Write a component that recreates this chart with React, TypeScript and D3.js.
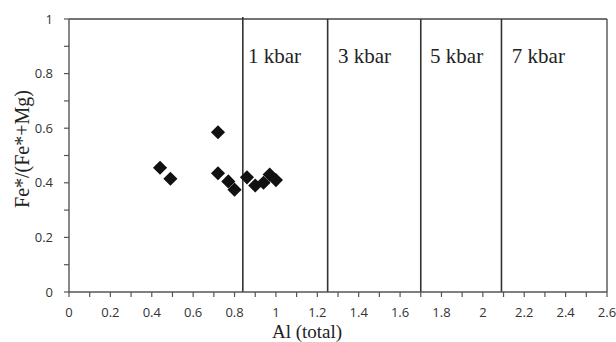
import React from "react";
import * as d3 from "d3";

const alTotal = [0.44, 0.49, 0.72, 0.72, 0.77, 0.8, 0.86, 0.9, 0.94, 0.97, 1.0];
const feRatio = [0.455, 0.415, 0.585, 0.435, 0.405, 0.375, 0.42, 0.39, 0.4, 0.43, 0.41];
const boundaries = [0.84, 1.25, 1.7, 2.09];
const zoneLabels = ["1 kbar", "3 kbar", "5 kbar", "7 kbar"];
const zoneLabelX = [0.865, 1.3, 1.745, 2.14];
const xTickLabels = [0, 0.2, 0.4, 0.6, 0.8, 1, 1.2, 1.4, 1.6, 1.8, 2, 2.2, 2.4, 2.6];
const yTickLabels = [0, 0.2, 0.4, 0.6, 0.8, 1];

const W = 616, H = 342;
const left = 69, right = 607, top = 19, bottom = 292;

export default function App() {
  const x = d3.scaleLinear().domain([0, 2.6]).range([left, right]);
  const y = d3.scaleLinear().domain([0, 1]).range([bottom, top]);
  const minorX = d3.range(0, 2.6001, 0.1);
  const minorY = d3.range(0, 1.0001, 0.1);
  const diamond = d3.symbol().type(d3.symbolSquare).size(100)();
  const axisColor = "#555";
  const tickFont = "'Open Sans', 'Liberation Sans', sans-serif";
  const serif = "'Liberation Serif', 'Times New Roman', serif";
  return (
    <svg width={W} height={H} style={{ position: "absolute", left: 0, top: 0, background: "#fff" }}>
      <rect x={0} y={0} width={W} height={H} fill="#fff" />
      <line x1={left} x2={right} y1={top} y2={top} stroke="#444" strokeWidth={1.3} />
      <line x1={right} x2={right} y1={top} y2={bottom} stroke="#444" strokeWidth={1.3} />
      {boundaries.map((b, i) => (
        <line key={i} x1={x(b)} x2={x(b)} y1={i === 0 ? top - 2 : top} y2={bottom} stroke="#333" strokeWidth={1.6} />
      ))}
      <line x1={left} x2={left} y1={top} y2={bottom} stroke={axisColor} strokeWidth={1.4} />
      <line x1={left} x2={right} y1={bottom} y2={bottom} stroke={axisColor} strokeWidth={1.4} />
      {minorY.map((v, i) => (
        <line key={"yt" + i} x1={left - 5} x2={left} y1={y(v)} y2={y(v)} stroke={axisColor} strokeWidth={1.2} />
      ))}
      {minorX.map((v, i) => (
        <line key={"xt" + i} x1={x(v)} x2={x(v)} y1={bottom} y2={bottom + 5} stroke={axisColor} strokeWidth={1.2} />
      ))}
      {yTickLabels.map((v, i) => (
        <text key={"yl" + i} x={left - 16} y={y(v)} dy="0.35em" textAnchor="end" style={{ fontFamily: tickFont }} fontSize={13} fill="#333">
          {v}
        </text>
      ))}
      {xTickLabels.map((v, i) => (
        <text key={"xl" + i} x={x(v)} y={bottom + 20} dy="0.35em" textAnchor="middle" style={{ fontFamily: tickFont }} fontSize={13} fill="#333">
          {v}
        </text>
      ))}
      {zoneLabels.map((t, i) => (
        <text key={"z" + i} x={x(zoneLabelX[i])} y={63} style={{ fontFamily: serif }} fontSize={21} fill="#222">
          {t}
        </text>
      ))}
      <text x={307} y={338} textAnchor="middle" style={{ fontFamily: serif }} fontSize={19} fill="#222">
        Al (total)
      </text>
      <text transform={`translate(29, 149) rotate(-90)`} textAnchor="middle" style={{ fontFamily: serif }} fontSize={20} fill="#222">
        Fe*/(Fe*+Mg)
      </text>
      {alTotal.map((a, i) => (
        <path key={"p" + i} d={diamond} transform={`translate(${x(a)}, ${y(feRatio[i])}) rotate(45)`} fill="#111" />
      ))}
    </svg>
  );
}
